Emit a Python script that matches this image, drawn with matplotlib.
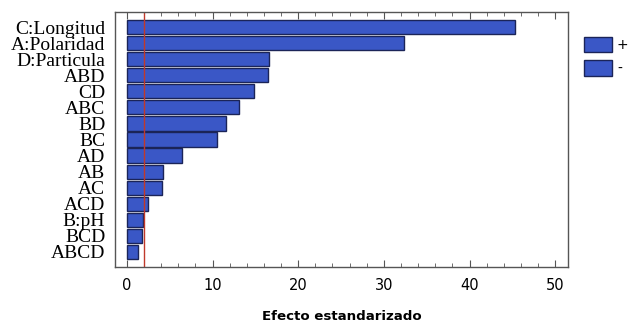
import matplotlib
matplotlib.use("Agg")
import matplotlib.pyplot as plt
from matplotlib.patches import Patch
from matplotlib.ticker import MultipleLocator

# Standardized effects (Pareto chart), largest first
factors = ["C:Longitud", "A:Polaridad", "D:Particula", "ABD", "CD", "ABC",
           "BD", "BC", "AD", "AB", "AC", "ACD", "B:pH", "BCD", "ABCD"]
effects = [45.3, 32.4, 16.6, 16.5, 14.8, 13.1, 11.6, 10.5, 6.4, 4.2, 4.1,
           2.5, 1.9, 1.7, 1.3]
critical_value = 2.0
legend_labels = ["+", "-"]
xticks = [0, 10, 20, 30, 40, 50]

bar_color = "#3a57c6"
edge_color = "#1b2458"

fig = plt.figure(figsize=(6.29, 3.23), dpi=100)
ax = fig.add_axes([0.1828, 0.1734, 0.7202, 0.7894])

positions = list(range(len(factors)))
ax.barh(positions, effects, height=0.88, color=bar_color,
        edgecolor=edge_color, linewidth=1.0)
ax.axvline(critical_value, color="#c0392b", linewidth=1.0)

ax.set_ylim(len(factors) - 0.05, -0.95)
ax.set_xlim(-1.4, 51.5)
ax.set_yticks(positions)
ax.set_yticklabels(factors, family="Liberation Serif", fontsize=14)
ax.tick_params(axis="y", length=0, pad=7)

ax.set_xticks(xticks)
ax.xaxis.set_minor_locator(MultipleLocator(2))
ax.tick_params(axis="x", which="major", direction="in", length=5,
               top=True, labelsize=10.5, pad=8, color="#555555")
ax.tick_params(axis="x", which="minor", direction="in", length=3,
               top=True, color="#555555")
for lbl in ax.get_xticklabels():
    lbl.set_family("DejaVu Sans")

for s in ax.spines.values():
    s.set_color("#555555")
    s.set_linewidth(1.0)

ax.set_xlabel("Efecto estandarizado", fontsize=9.6, fontweight="bold",
              family="DejaVu Sans", labelpad=12)

handles = [Patch(facecolor=bar_color, edgecolor=edge_color, linewidth=1.0)
           for _ in legend_labels]
fig.legend(handles, legend_labels, loc="upper left",
           bbox_to_anchor=(0.929, 0.886), frameon=False, fontsize=10,
           handlelength=2.0, handleheight=1.3, handletextpad=0.35,
           labelspacing=0.6, borderaxespad=0, borderpad=0)

fig.savefig("out.png", dpi=100)
